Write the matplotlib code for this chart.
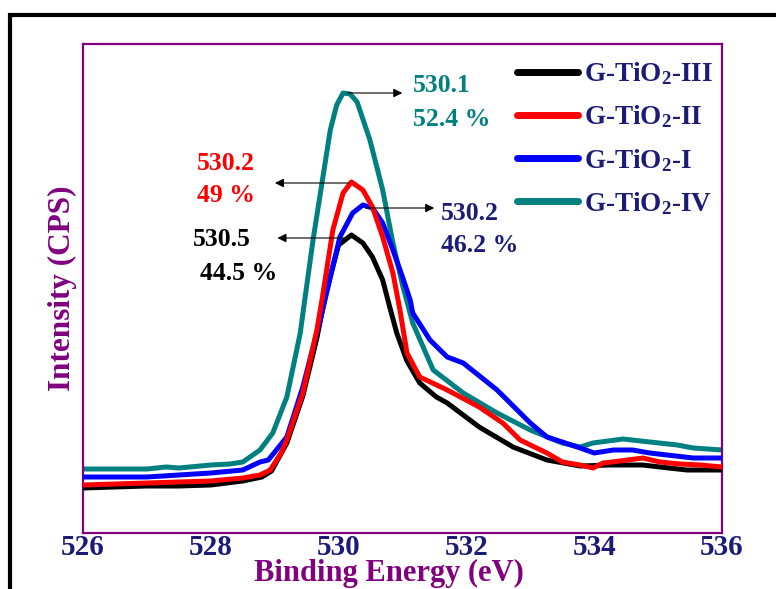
import matplotlib
matplotlib.use("Agg")
import matplotlib.pyplot as plt
from matplotlib.patches import Rectangle

plt.rcParams['font.family'] = ['Liberation Serif', 'DejaVu Serif']
plt.rcParams['font.weight'] = 'bold'
plt.rcParams['axes.labelweight'] = 'bold'
plt.rcParams['mathtext.fontset'] = 'custom'
plt.rcParams['mathtext.rm'] = 'Liberation Serif:bold'
plt.rcParams['mathtext.it'] = 'Liberation Serif:bold'
plt.rcParams['mathtext.bf'] = 'Liberation Serif:bold'

PURPLE = '#800080'
NAVY = '#1c1c78'
TEAL = '#008080'

# O 1s spectra (binding energy in eV, intensity in arbitrary counts)
be_III = [526.0, 526.5, 527.0, 527.5, 528.0, 528.5, 528.8, 528.95, 529.19, 529.44,
          529.66, 529.8, 530.0, 530.2, 530.38, 530.53, 530.69, 530.8, 530.91, 531.07,
          531.27, 531.53, 531.7, 532.2, 532.73, 533.26, 533.78, 534.25, 534.76, 535.03,
          535.45, 536.0]
int_III = [45, 46, 47, 47, 48, 52, 56, 62, 90, 137,
           195, 240, 288, 298, 290, 276, 253, 226, 200, 172,
           150, 136, 130, 106, 86, 73, 67, 68, 68, 66,
           63, 63]

be_II = [526.0, 526.5, 527.0, 527.5, 528.0, 528.5, 528.77, 528.93, 529.1, 529.19,
         529.44, 529.66, 529.74, 529.91, 530.07, 530.2, 530.38, 530.53, 530.69, 530.85,
         530.96, 531.07, 531.27, 531.7, 532.2, 532.57, 532.84, 533.26, 533.5, 533.78,
         533.98, 534.14, 534.4, 534.76, 535.03, 535.34, 535.66, 536.0]
int_II = [48, 49, 50, 51, 52, 55, 58, 63, 80, 93,
          140, 203, 233, 303, 340, 351, 343, 326, 296, 260,
          223, 180, 156, 143, 126, 110, 93, 80, 71, 68,
          65, 70, 72, 75, 71, 69, 68, 66]

be_I = [526.0, 526.5, 527.0, 527.5, 528.0, 528.5, 528.77, 528.9, 529.19, 529.44,
        529.71, 529.76, 530.02, 530.22, 530.38, 530.53, 530.69, 530.85, 531.0, 531.12,
        531.16, 531.43, 531.7, 531.95, 532.48, 533.0, 533.26, 533.5, 533.78, 534.0,
        534.3, 534.6, 534.87, 535.14, 535.55, 536.0]
int_I = [56, 56, 56, 58, 60, 63, 71, 73, 96, 146,
         213, 226, 296, 320, 328, 325, 310, 283, 256, 233,
         220, 193, 176, 170, 143, 110, 96, 91, 85, 80,
         83, 83, 80, 78, 75, 75]

be_IV = [526.0, 526.5, 527.0, 527.3, 527.5, 528.0, 528.3, 528.5, 528.77, 528.97,
         529.19, 529.4, 529.47, 529.6, 529.87, 529.97, 530.07, 530.18, 530.29, 530.49,
         530.69, 530.85, 531.0, 531.16, 531.48, 531.95, 532.48, 533.0, 533.5, 533.78,
         533.98, 534.45, 534.87, 535.3, 535.55, 536.0]
int_IV = [64, 64, 64, 66, 65, 68, 69, 71, 83, 100,
          136, 200, 233, 293, 403, 428, 440, 439, 431, 393,
          343, 290, 248, 210, 163, 140, 120, 103, 90, 86,
          90, 94, 91, 88, 85, 83]

fig = plt.figure(figsize=(7.76, 5.89), dpi=100)
ax = fig.add_axes([83 / 776, 1 - 533 / 589, 639 / 776, 489 / 589])

lw = 3.6
ax.plot(be_III, int_III, color='black', lw=lw, label='G-TiO$_2$-III', zorder=3)
ax.plot(be_II, int_II, color='red', lw=lw, label='G-TiO$_2$-II', zorder=4)
ax.plot(be_I, int_I, color='blue', lw=lw, label='G-TiO$_2$-I', zorder=3)
ax.plot(be_IV, int_IV, color=TEAL, lw=lw, label='G-TiO$_2$-IV', zorder=2)

ax.set_xlim(526, 536)
ax.set_ylim(0, 489)
ax.set_xticks([526, 528, 530, 532, 534, 536])
ax.set_yticks([])
ax.tick_params(axis='x', length=0, pad=1, labelsize=21, labelcolor=NAVY)
for s in ax.spines.values():
    s.set_color(PURPLE)
    s.set_linewidth(1.6)

fig.text(389 / 776, 8 / 589, 'Binding Energy (eV)', fontsize=22, color=PURPLE,
         fontweight='bold', ha='center', va='baseline')
ax.set_ylabel('Intensity (CPS)', fontsize=22.5, color=PURPLE, labelpad=4)

leg = ax.legend(loc='upper left', bbox_to_anchor=(0.649, 1.005), frameon=False,
                fontsize=19.5, handlelength=2.25, handletextpad=0.22,
                labelspacing=0.6, borderaxespad=0.3)
for t in leg.get_texts():
    t.set_color(NAVY)
for h in leg.get_lines():
    h.set_linewidth(5.0)
    h.set_solid_capstyle('round')

# peak callouts: peak x, peak y, arrow end x, text x, text y, colour, energy, fraction
arrow = dict(arrowstyle='-|>', color='black', lw=0.8, mutation_scale=13)
callouts = [
    (530.1, 440, 531.04, 531.16, 447, TEAL, '530.1', '52.4 %', 0),
    (530.2, 350, 528.96, 527.78, 370, 'red', '530.2', '49 %', 0),
    (530.2, 295, 529.0, 527.72, 293, 'black', '530.5', '44.5 %', 0.11),
    (530.38, 325, 531.54, 531.6, 320, NAVY, '530.2', '46.2 %', 0),
]
for px, py, ex, tx, ty, c, s1, s2, dx2 in callouts:
    ax.annotate('', xy=(ex, py), xytext=(px, py), arrowprops=arrow, zorder=5)
    ax.text(tx, ty, s1, color=c, fontsize=18.5, va='center', ha='left')
    ax.text(tx + dx2, ty - 33, s2, color=c, fontsize=18.5, va='center', ha='left')

# outer frame
fig.add_artist(Rectangle((10 / 776, -0.2), 2.0, 1.2 - 15 / 589, transform=fig.transFigure,
                         fill=False, edgecolor='black', lw=3.0))

fig.savefig('out.png', dpi=100)
